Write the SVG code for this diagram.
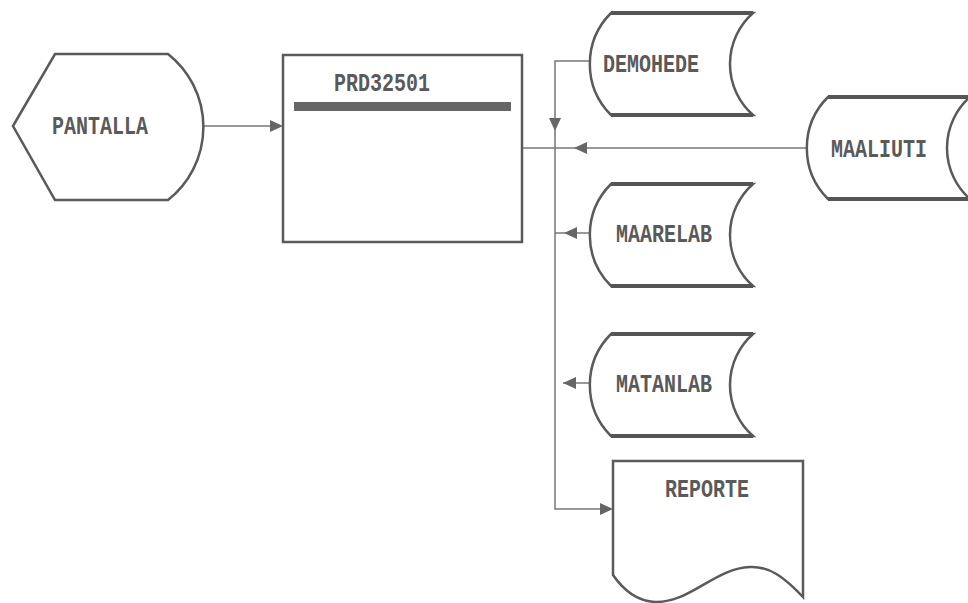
<svg xmlns="http://www.w3.org/2000/svg" xmlns:xlink="http://www.w3.org/1999/xlink" width="968" height="603" viewBox="0 0 968 603">
<style>
.shape{fill:#fff;stroke:#5a5a5a;stroke-width:2.5}
.tb{fill:none;stroke:#555;stroke-width:4}
.edge{fill:none;stroke:#777;stroke-width:1.5}
.head{fill:#666;stroke:none}
.lbl{font-family:"Liberation Mono","DejaVu Sans Mono",monospace;font-size:20px;font-weight:bold;fill:#5a5a5a;text-anchor:middle;dominant-baseline:central}
</style>
<defs>
<path id="store" d="M0,0 L142,0 A68 68 0 0 0 142,102 L0,102 A72 72 0 0 1 0,0 Z"/>
<path id="storetb" d="M0,0 L142,0 M0,102 L142,102"/>
</defs>
<rect width="968" height="603" fill="#fff"/>
<g id="connectors">
<line class="edge" x1="202" y1="126" x2="272" y2="126"/>
<polygon class="head" points="283,126 270,120 270,132"/>
<line class="edge" x1="522" y1="148" x2="808" y2="148"/>
<polygon class="head" points="574,148 587,142 587,154"/>
<polyline class="edge" points="590,61 555,61 555,509 602,509"/>
<polygon class="head" points="555,131 549,118 561,118"/>
<polygon class="head" points="613,509 600,503 600,515"/>
<line class="edge" x1="555" y1="233" x2="589" y2="233"/>
<polygon class="head" points="564,233 577,227 577,239"/>
<line class="edge" x1="563" y1="383" x2="589" y2="383"/>
<polygon class="head" points="563,383 576,377 576,389"/>
</g>
<g id="pantalla">
<path class="shape" d="M13,126 L55,54 L168,54 A93 93 0 0 1 168,200 L55,200 Z"/>
<text class="lbl" transform="translate(100,127) scale(1,1.25)">PANTALLA</text>
</g>
<g id="prd32501">
<rect class="shape" x="283" y="55" width="239" height="187" stroke-width="3"/>
<rect x="294" y="102" width="217" height="9" fill="#666"/>
<text class="lbl" transform="translate(382,84) scale(1,1.25)">PRD32501</text>
</g>
<g id="demohede">
<use xlink:href="#store" class="shape" transform="translate(611,13)"/>
<use xlink:href="#storetb" class="tb" transform="translate(611,13)"/>
<text class="lbl" transform="translate(651,65) scale(1,1.25)">DEMOHEDE</text>
</g>
<g id="maaliuti">
<use xlink:href="#store" class="shape" transform="translate(828,97)"/>
<use xlink:href="#storetb" class="tb" transform="translate(828,97)"/>
<text class="lbl" transform="translate(879,150) scale(1,1.25)">MAALIUTI</text>
</g>
<g id="maarelab">
<use xlink:href="#store" class="shape" transform="translate(611,184)"/>
<use xlink:href="#storetb" class="tb" transform="translate(611,184)"/>
<text class="lbl" transform="translate(664,235) scale(1,1.25)">MAARELAB</text>
</g>
<g id="matanlab">
<use xlink:href="#store" class="shape" transform="translate(611,334)"/>
<use xlink:href="#storetb" class="tb" transform="translate(611,334)"/>
<text class="lbl" transform="translate(664,385) scale(1,1.25)">MATANLAB</text>
</g>
<g id="reporte">
<path class="shape" d="M613,461 H803 V597 C785,578 770,566 750,567 C715,568 690,603 655,602 C635,601 622,588 613,575 Z" stroke-width="3"/>
<text class="lbl" transform="translate(707,490) scale(1,1.25)">REPORTE</text>
</g>
</svg>
